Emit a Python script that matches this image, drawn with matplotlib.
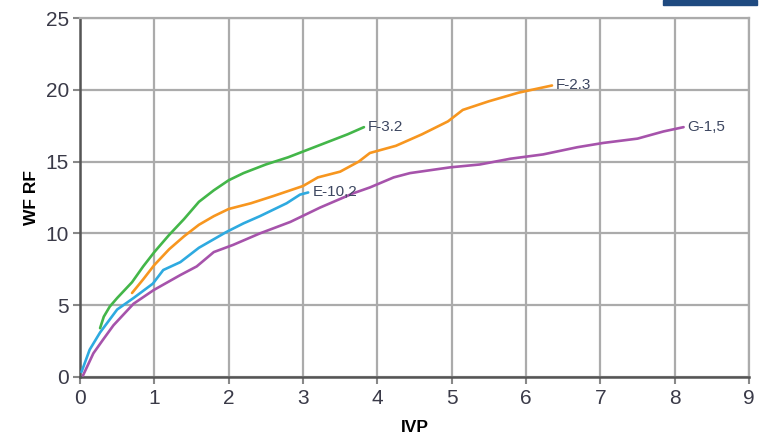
import matplotlib
matplotlib.use("Agg")
import matplotlib.pyplot as plt
from matplotlib.patches import Rectangle

plt.rcParams["font.family"] = ["Liberation Sans", "DejaVu Sans"]

# Data (IVP, WF RF)
f32_x = [0.27, 0.32, 0.4, 0.5, 0.7, 0.85, 1.0, 1.2, 1.4, 1.6, 1.8, 2.0, 2.2, 2.5, 2.8, 3.0, 3.3, 3.6, 3.82]
f32_y = [3.4, 4.2, 4.9, 5.5, 6.6, 7.7, 8.7, 9.9, 11.0, 12.2, 13.0, 13.7, 14.2, 14.8, 15.3, 15.7, 16.3, 16.9, 17.4]

f23_x = [0.7, 0.85, 1.0, 1.2, 1.4, 1.6, 1.8, 2.0, 2.3, 2.6, 3.0, 3.2, 3.5, 3.75, 3.9, 4.25, 4.6, 4.95, 5.15, 5.5, 5.9, 6.35]
f23_y = [5.85, 6.8, 7.8, 8.9, 9.8, 10.6, 11.2, 11.7, 12.1, 12.6, 13.3, 13.9, 14.3, 15.0, 15.6, 16.1, 16.9, 17.8, 18.6, 19.2, 19.8, 20.3]

e102_x = [0.02, 0.13, 0.27, 0.5, 0.72, 0.98, 1.12, 1.35, 1.6, 1.97, 2.2, 2.42, 2.78, 2.96, 3.07]
e102_y = [0.35, 1.9, 3.1, 4.7, 5.5, 6.5, 7.45, 8.0, 9.0, 10.1, 10.7, 11.2, 12.1, 12.7, 12.85]

g15_x = [0.04, 0.18, 0.31, 0.45, 0.72, 0.99, 1.35, 1.57, 1.8, 2.06, 2.42, 2.83, 3.23, 3.68, 3.9, 4.22, 4.44, 4.98, 5.38, 5.79, 6.23, 6.69, 7.04, 7.5, 7.85, 8.12]
g15_y = [0.1, 1.65, 2.6, 3.6, 5.1, 6.05, 7.1, 7.7, 8.7, 9.2, 10.0, 10.8, 11.8, 12.8, 13.2, 13.9, 14.2, 14.6, 14.8, 15.2, 15.5, 16.0, 16.3, 16.6, 17.1, 17.4]

series = [
    ("E-10,2", e102_x, e102_y, "#2eaae0"),
    ("G-1,5", g15_x, g15_y, "#a653ab"),
    ("F-2.3", f23_x, f23_y, "#f7961f"),
    ("F-3.2", f32_x, f32_y, "#43b649"),
]

x_ticks = [0, 1, 2, 3, 4, 5, 6, 7, 8, 9]
y_ticks = [0, 5, 10, 15, 20, 25]

fig = plt.figure(figsize=(7.59, 4.37), dpi=100)
ax = fig.add_axes([0.1054, 0.1373, 0.8814, 0.8215])

for name, xs, ys, c in series:
    ax.annotate(name, xy=(xs[-1], ys[-1]), xytext=(3, 0), textcoords="offset points",
                ha="left", va="center", fontsize=11, color="#3c4660", zorder=4)
    ax.plot(xs, ys, color=c, lw=1.9, solid_capstyle="round", zorder=3)

ax.set_xlim(0, 9)
ax.set_ylim(0, 25)
ax.set_xticks(x_ticks)
ax.set_yticks(y_ticks)
ax.tick_params(axis="both", labelsize=15, labelcolor="#3a3a48", color="#888888",
               length=5, width=1.5, direction="out")
ax.tick_params(axis="x", pad=4)
ax.tick_params(axis="y", pad=3)
ax.grid(True, color="#ababab", lw=1.6, zorder=0)
ax.set_axisbelow(True)
for s in ["top", "right"]:
    ax.spines[s].set_color("#ababab")
    ax.spines[s].set_linewidth(1.6)
for s in ["left", "bottom"]:
    ax.spines[s].set_color("#555555")
    ax.spines[s].set_linewidth(1.8)

ax.set_xlabel("IVP", fontsize=12.5, fontweight="bold", labelpad=8)
ax.set_ylabel("WF RF", fontsize=12.5, fontweight="bold", labelpad=5)

fig.patches.append(Rectangle((663 / 759, 1 - 5 / 437), 94 / 759, 5 / 437,
                             transform=fig.transFigure, color="#1f4a80", zorder=5))

fig.savefig("out.png", dpi=100)
